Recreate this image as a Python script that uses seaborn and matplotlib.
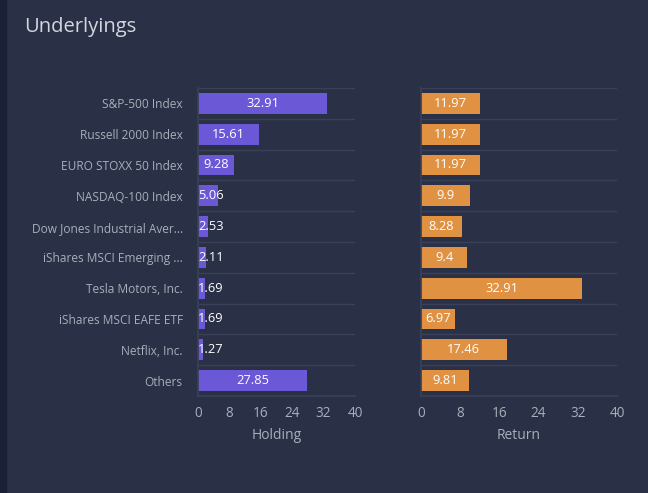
import pandas as pd
import seaborn as sns
import matplotlib.pyplot as plt
from matplotlib.patches import Rectangle

names = ["S&P-500 Index", "Russell 2000 Index", "EURO STOXX 50 Index", "NASDAQ-100 Index",
         "Dow Jones Industrial Aver...", "iShares MSCI Emerging ...", "Tesla Motors, Inc.",
         "iShares MSCI EAFE ETF", "Netflix, Inc.", "Others"]
holding = [32.91, 15.61, 9.28, 5.06, 2.53, 2.11, 1.69, 1.69, 1.27, 27.85]
returns = [11.97, 11.97, 11.97, 9.9, 8.28, 9.4, 32.91, 6.97, 17.46, 9.81]
ticks = [0, 8, 16, 24, 32, 40]

BG = "#2a3045"
GRID = "#3a4058"
TXT = "#a9aebb"

sns.set_theme(style="dark")
plt.rcParams["font.family"] = ["Open Sans", "DejaVu Sans"]

df = pd.DataFrame({"name": names, "Holding": holding, "Return": returns})

fig = plt.figure(figsize=(6.48, 4.93), dpi=100, facecolor=BG)
fig.patches.append(Rectangle((0, 0), 6 / 648, 1, transform=fig.transFigure,
                             color="#1c2036", zorder=0))
fig.text(24 / 648, 1 - 27 / 493, "Underlyings", color="#d4d7e0", fontsize=14.5,
         va="center", ha="left")

ax1 = fig.add_axes([198 / 648, 1 - 396 / 493, 157 / 648, 308 / 493])
ax2 = fig.add_axes([421 / 648, 1 - 396 / 493, 196 / 648, 308 / 493])

for ax, col, color, show_names in [(ax1, "Holding", "#6b58d6", True),
                                   (ax2, "Return", "#e09142", False)]:
    ax.set_facecolor(BG)
    sns.barplot(data=df, y="name", x=col, ax=ax, color=color, saturation=1,
                width=0.68, orient="h", linewidth=0)
    ax.set_xlim(0, 40)
    ax.set_ylim(9.5, -0.5)
    ax.hlines([i - 0.5 for i in range(10)], 0, 40, color=GRID, lw=1, zorder=0)
    for s in ["top", "right"]:
        ax.spines[s].set_visible(False)
    ax.spines["bottom"].set_color(GRID)
    ax.spines["left"].set_color(GRID)
    ax.set_xticks(ticks)
    ax.tick_params(axis="x", colors=TXT, labelsize=9.8, length=4, width=1, color=GRID, pad=3)
    ax.tick_params(axis="y", length=0, pad=11)
    ax.set_xlabel(col, color=TXT, fontsize=10, labelpad=5)
    ax.set_ylabel("")
    if show_names:
        ax.set_yticks(range(10))
        ax.set_yticklabels(names, color=TXT, fontsize=8.6)
    else:
        ax.set_yticks([])
    fig.canvas.draw()
    r = fig.canvas.get_renderer()
    for i, v in enumerate(df[col]):
        lbl = f"{v:g}"
        t = ax.text(v / 2, i, lbl, color="white", fontsize=9.3, ha="center", va="center")
        bb = t.get_window_extent(r)
        x0 = ax.transData.transform((0, 0))[0]
        x1 = ax.transData.transform((v, 0))[0]
        if bb.width + 4 > x1 - x0:
            t.set_x(0)
            t.set_ha("left")

fig.savefig("out.png", dpi=100, facecolor=BG)
